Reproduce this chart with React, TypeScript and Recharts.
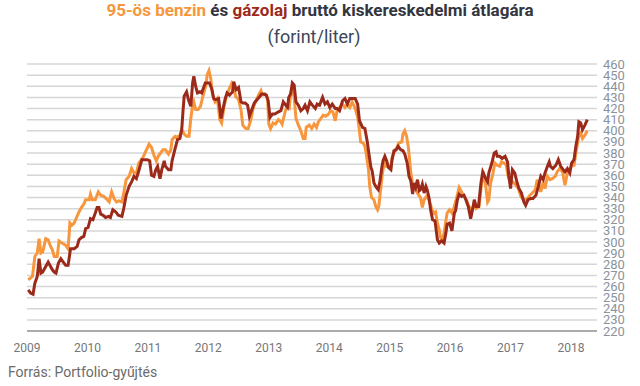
import { LineChart, Line, XAxis, YAxis, CartesianGrid } from "recharts";

// 95-ös benzin, weekly-ish readings (decimal year, Ft/liter)
const benzinDates = [
  2009.02, 2009.09, 2009.13, 2009.17, 2009.2, 2009.23, 2009.26, 2009.31, 2009.35, 2009.39,
  2009.42, 2009.45, 2009.5, 2009.53, 2009.58, 2009.64, 2009.68, 2009.71, 2009.74, 2009.78,
  2009.82, 2009.86, 2009.9, 2009.94, 2009.97, 2010.03, 2010.05, 2010.08, 2010.13, 2010.18,
  2010.22, 2010.27, 2010.31, 2010.36, 2010.4, 2010.44, 2010.48, 2010.52, 2010.57, 2010.6,
  2010.64, 2010.69, 2010.73, 2010.77, 2010.81, 2010.85, 2010.91, 2010.96, 2011.02, 2011.06,
  2011.1, 2011.14, 2011.17, 2011.21, 2011.25, 2011.29, 2011.34, 2011.38, 2011.4, 2011.45,
  2011.49, 2011.53, 2011.56, 2011.6, 2011.64, 2011.68, 2011.71, 2011.74, 2011.76, 2011.79,
  2011.83, 2011.87, 2011.91, 2011.96, 2011.98, 2012.01, 2012.04, 2012.07, 2012.11, 2012.15,
  2012.19, 2012.22, 2012.26, 2012.3, 2012.34, 2012.39, 2012.42, 2012.45, 2012.5, 2012.54,
  2012.57, 2012.62, 2012.66, 2012.7, 2012.74, 2012.78, 2012.83, 2012.87, 2012.89, 2012.94,
  2012.98, 2013.0, 2013.03, 2013.07, 2013.11, 2013.16, 2013.2, 2013.22, 2013.27, 2013.31,
  2013.34, 2013.36, 2013.39, 2013.42, 2013.45, 2013.49, 2013.53, 2013.57, 2013.6, 2013.62,
  2013.67, 2013.71, 2013.75, 2013.79, 2013.82, 2013.86, 2013.9, 2013.94, 2013.99, 2014.02,
  2014.06, 2014.1, 2014.13, 2014.17, 2014.22, 2014.26, 2014.3, 2014.34, 2014.38, 2014.43,
  2014.47, 2014.5, 2014.52, 2014.56, 2014.59, 2014.61, 2014.65, 2014.67, 2014.7, 2014.74,
  2014.77, 2014.8, 2014.82, 2014.85, 2014.88, 2014.91, 2014.93, 2014.98, 2015.02, 2015.04,
  2015.09, 2015.13, 2015.15, 2015.2, 2015.22, 2015.25, 2015.28, 2015.31, 2015.35, 2015.38,
  2015.4, 2015.43, 2015.47, 2015.51, 2015.54, 2015.57, 2015.61, 2015.65, 2015.7, 2015.73,
  2015.76, 2015.79, 2015.82, 2015.84, 2015.87, 2015.9, 2015.93, 2015.95, 2015.99, 2016.03,
  2016.07, 2016.1, 2016.15, 2016.19, 2016.23, 2016.27, 2016.31, 2016.36, 2016.4, 2016.43,
  2016.48, 2016.52, 2016.56, 2016.59, 2016.62, 2016.64, 2016.67, 2016.71, 2016.74, 2016.78,
  2016.82, 2016.85, 2016.89, 2016.93, 2016.96, 2017.0, 2017.04, 2017.09, 2017.13, 2017.17,
  2017.21, 2017.24, 2017.28, 2017.32, 2017.36, 2017.41, 2017.44, 2017.47, 2017.5, 2017.54,
  2017.57, 2017.61, 2017.65, 2017.69, 2017.74, 2017.77, 2017.81, 2017.86, 2017.9, 2017.94,
  2017.97, 2018.01, 2018.05, 2018.08, 2018.11, 2018.13, 2018.16, 2018.19, 2018.23, 2018.27,
];
const benzinPrices = [
  266, 269, 287, 290, 303, 290, 291, 303, 302, 296,
  293, 287, 287, 301, 299, 297, 294, 317, 315, 317,
  322, 327, 331, 334, 338, 338, 343, 338, 338, 345,
  342, 341, 339, 336, 345, 339, 336, 337, 336, 344,
  356, 359, 366, 362, 362, 371, 375, 381, 388, 385,
  378, 373, 377, 380, 383, 383, 379, 383, 392, 395,
  394, 396, 401, 397, 395, 395, 411, 423, 426, 419,
  419, 422, 431, 441, 450, 454, 447, 432, 426, 429,
  410, 407, 422, 431, 437, 443, 441, 431, 428, 419,
  405, 402, 402, 409, 420, 426, 432, 436, 432, 433,
  429, 406, 402, 407, 406, 410, 408, 406, 417, 423,
  421, 432, 438, 430, 411, 405, 400, 393, 393, 403,
  405, 402, 406, 403, 408, 411, 414, 413, 415, 418,
  417, 409, 418, 421, 424, 421, 424, 421, 426, 420,
  412, 400, 390, 389, 386, 380, 365, 350, 340, 338,
  332, 329, 332, 347, 362, 371, 368, 368, 367, 376,
  382, 386, 389, 390, 397, 400, 395, 385, 362, 352,
  349, 347, 343, 340, 331, 338, 341, 338, 329, 326,
  327, 317, 311, 304, 302, 308, 319, 326, 329, 326,
  332, 338, 349, 345, 341, 338, 332, 329, 333, 330,
  332, 353, 359, 350, 336, 338, 353, 362, 371, 369,
  368, 372, 371, 369, 359, 353, 354, 351, 348, 341,
  338, 338, 339, 342, 344, 347, 356, 351, 345, 354,
  348, 359, 356, 357, 359, 363, 366, 363, 351, 362,
  363, 369, 369, 380, 389, 396, 398, 393, 396, 400,
];

// gázolaj
const gazolajDates = [
  2009.02, 2009.06, 2009.1, 2009.13, 2009.17, 2009.2, 2009.23, 2009.26, 2009.31, 2009.35,
  2009.39, 2009.42, 2009.45, 2009.48, 2009.52, 2009.56, 2009.6, 2009.64, 2009.68, 2009.72,
  2009.78, 2009.83, 2009.86, 2009.9, 2009.94, 2009.97, 2010.01, 2010.05, 2010.09, 2010.13,
  2010.16, 2010.19, 2010.22, 2010.26, 2010.3, 2010.35, 2010.38, 2010.42, 2010.47, 2010.51,
  2010.57, 2010.6, 2010.64, 2010.69, 2010.73, 2010.77, 2010.81, 2010.85, 2010.9, 2010.94,
  2010.99, 2011.03, 2011.06, 2011.1, 2011.13, 2011.16, 2011.2, 2011.23, 2011.27, 2011.29,
  2011.34, 2011.38, 2011.4, 2011.45, 2011.49, 2011.53, 2011.56, 2011.58, 2011.6, 2011.64,
  2011.67, 2011.71, 2011.74, 2011.76, 2011.79, 2011.82, 2011.86, 2011.89, 2011.91, 2011.95,
  2011.98, 2012.02, 2012.06, 2012.09, 2012.12, 2012.17, 2012.21, 2012.24, 2012.28, 2012.31,
  2012.35, 2012.4, 2012.42, 2012.46, 2012.5, 2012.54, 2012.57, 2012.61, 2012.65, 2012.68,
  2012.72, 2012.76, 2012.79, 2012.84, 2012.88, 2012.92, 2012.96, 2012.99, 2013.02, 2013.06,
  2013.1, 2013.16, 2013.2, 2013.24, 2013.28, 2013.31, 2013.33, 2013.36, 2013.39, 2013.42,
  2013.45, 2013.49, 2013.53, 2013.57, 2013.6, 2013.64, 2013.68, 2013.72, 2013.77, 2013.8,
  2013.84, 2013.89, 2013.93, 2013.97, 2014.01, 2014.05, 2014.1, 2014.13, 2014.17, 2014.22,
  2014.26, 2014.3, 2014.34, 2014.38, 2014.43, 2014.47, 2014.5, 2014.55, 2014.59, 2014.63,
  2014.66, 2014.69, 2014.71, 2014.74, 2014.78, 2014.81, 2014.84, 2014.87, 2014.89, 2014.92,
  2014.95, 2014.98, 2015.02, 2015.04, 2015.07, 2015.11, 2015.14, 2015.18, 2015.22, 2015.25,
  2015.29, 2015.32, 2015.35, 2015.38, 2015.4, 2015.43, 2015.46, 2015.49, 2015.51, 2015.54,
  2015.57, 2015.6, 2015.62, 2015.65, 2015.68, 2015.71, 2015.75, 2015.79, 2015.82, 2015.86,
  2015.9, 2015.93, 2015.95, 2015.99, 2016.03, 2016.07, 2016.09, 2016.12, 2016.15, 2016.19,
  2016.23, 2016.26, 2016.3, 2016.34, 2016.37, 2016.4, 2016.43, 2016.47, 2016.51, 2016.54,
  2016.59, 2016.62, 2016.64, 2016.69, 2016.73, 2016.76, 2016.78, 2016.82, 2016.86, 2016.91,
  2016.95, 2016.97, 2017.0, 2017.03, 2017.07, 2017.11, 2017.14, 2017.18, 2017.22, 2017.25,
  2017.29, 2017.33, 2017.37, 2017.42, 2017.46, 2017.5, 2017.54, 2017.57, 2017.61, 2017.64,
  2017.66, 2017.7, 2017.75, 2017.79, 2017.83, 2017.87, 2017.9, 2017.94, 2017.98, 2018.01,
  2018.05, 2018.08, 2018.11, 2018.13, 2018.16, 2018.19, 2018.23, 2018.27,
];
const gazolajPrices = [
  257, 254, 253, 263, 269, 285, 272, 273, 278, 282,
  278, 275, 273, 272, 281, 285, 282, 279, 279, 294,
  294, 296, 302, 304, 305, 312, 313, 321, 320, 326,
  331, 331, 325, 324, 322, 323, 322, 329, 327, 324,
  323, 330, 342, 350, 354, 359, 357, 364, 374, 374,
  374, 373, 360, 359, 365, 368, 357, 365, 373, 368,
  365, 365, 373, 384, 392, 393, 401, 417, 431, 435,
  428, 422, 443, 449, 440, 434, 435, 434, 437, 443,
  443, 443, 437, 429, 428, 429, 411, 419, 429, 434,
  432, 435, 444, 437, 439, 426, 425, 425, 423, 413,
  419, 425, 427, 430, 433, 433, 432, 427, 412, 415,
  415, 417, 418, 426, 423, 421, 430, 433, 443, 441,
  426, 423, 418, 420, 423, 418, 426, 423, 420, 424,
  423, 430, 424, 426, 421, 424, 420, 420, 418, 427,
  429, 424, 429, 429, 429, 424, 409, 403, 402, 390,
  378, 367, 364, 353, 349, 347, 355, 367, 373, 377,
  373, 367, 365, 374, 382, 383, 386, 383, 382, 379,
  371, 359, 355, 343, 353, 349, 356, 346, 347, 352,
  344, 350, 347, 340, 328, 320, 319, 302, 299, 301,
  299, 308, 316, 317, 310, 326, 328, 338, 343, 341,
  342, 338, 332, 321, 329, 338, 332, 332, 353, 363,
  357, 354, 362, 371, 380, 381, 377, 377, 375, 377,
  372, 360, 348, 365, 362, 353, 348, 344, 336, 333,
  338, 339, 339, 342, 350, 359, 356, 362, 368, 372,
  368, 366, 369, 374, 368, 365, 363, 366, 362, 371,
  374, 386, 395, 408, 407, 401, 405, 410,
];

const yearTicks = [2009, 2010, 2011, 2012, 2013, 2014, 2015, 2016, 2017, 2018];
const priceTicks = [
  220, 230, 240, 250, 260, 270, 280, 290, 300, 310, 320, 330, 340,
  350, 360, 370, 380, 390, 400, 410, 420, 430, 440, 450, 460,
];

const BENZIN = "#f7963c";
const GAZOLAJ = "#9c2a1b";

const benzinData = benzinDates.map((t, i) => ({ t, price: benzinPrices[i] }));
const gazolajData = gazolajDates.map((t, i) => ({ t, price: gazolajPrices[i] }));

export default function App() {
  return (
    <div
      style={{
        position: "absolute",
        left: 0,
        top: 0,
        width: 640,
        height: 386,
        background: "#fff",
        fontFamily: "Roboto, sans-serif",
      }}
    >
      <div
        style={{
          position: "absolute",
          top: 0,
          left: 0,
          width: 640,
          textAlign: "center",
          fontSize: 17,
          lineHeight: "20px",
          fontWeight: 700,
          color: "#333540",
        }}
      >
        <span style={{ color: BENZIN }}>95-ös benzin</span> és{" "}
        <span style={{ color: GAZOLAJ }}>gázolaj</span> bruttó kiskereskedelmi átlagára
      </div>
      <div
        style={{
          position: "absolute",
          top: 26,
          left: 0,
          width: 628,
          textAlign: "center",
          fontSize: 18,
          lineHeight: "22px",
          color: "#3b4658",
        }}
      >
        (forint/liter)
      </div>

      <LineChart
        width={640}
        height={386}
        margin={{ top: 64, right: 0, bottom: 25, left: 27 }}
        style={{ position: "absolute", left: 0, top: 0 }}
      >
        <CartesianGrid vertical={false} stroke="#d6d6d6" strokeWidth={1.5} />
        <XAxis
          dataKey="t"
          type="number"
          domain={[2009, 2018.43]}
          ticks={yearTicks}
          allowDataOverflow
          height={30}
          tickSize={0}
          tickMargin={12}
          interval={0}
          tick={{ fontSize: 12, fill: "#767676" }}
          stroke="#9a9a9a"
          strokeWidth={1.5}
        />
        <YAxis
          orientation="right"
          domain={[220, 460]}
          ticks={priceTicks}
          interval={0}
          width={43}
          axisLine={false}
          tickLine={false}
          tickSize={0}
          tickMargin={6}
          tick={{ fontSize: 13, fill: "#8a939e" }}
        />
        <Line
          data={benzinData}
          dataKey="price"
          type="linear"
          stroke={BENZIN}
          strokeWidth={3}
          dot={false}
          isAnimationActive={false}
        />
        <Line
          data={gazolajData}
          dataKey="price"
          type="linear"
          stroke={GAZOLAJ}
          strokeWidth={3}
          dot={false}
          isAnimationActive={false}
        />
      </LineChart>

      <div
        style={{
          position: "absolute",
          top: 364,
          left: 8,
          fontSize: 14,
          lineHeight: "16px",
          color: "#6b6b6b",
        }}
      >
        Forrás: Portfolio-gyűjtés
      </div>
    </div>
  );
}
